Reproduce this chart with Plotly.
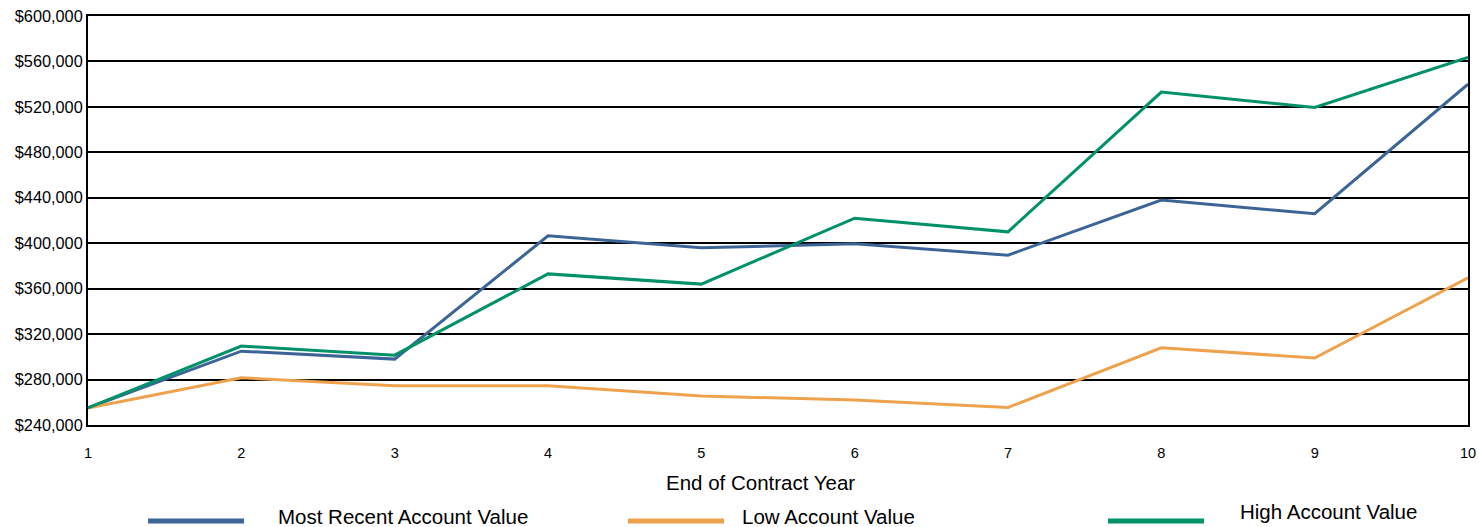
import plotly.graph_objects as go

years = [1, 2, 3, 4, 5, 6, 7, 8, 9, 10]
most_recent = [255000, 305000, 298000, 406500, 396000, 399500, 389500, 438000, 426000, 540000]
low_value = [255000, 281500, 274500, 274500, 265500, 262000, 255500, 308000, 299000, 369500]
high_value = [255000, 309500, 301500, 373000, 364000, 422000, 410000, 533000, 519500, 563500]

series_names = ["Most Recent Account Value", "Low Account Value", "High Account Value"]
series_values = [most_recent, low_value, high_value]
colors = ["#3C6496", "#EFA24E", "#00916B"]

y_ticks = list(range(240000, 600001, 40000))
y_tick_text = ["${:,}".format(v) for v in y_ticks]

W, H = 1479, 527
L, R, T, B = 88, 11, 16, 102
PW, PH = W - L - R, H - T - B


def px_x(px):
    return (px - L) / PW


def px_y(py):
    return (H - B - py) / PH


FONT = "Liberation Sans, Arial, sans-serif"

fig = go.Figure()
for name, vals, col in zip(series_names, series_values, colors):
    fig.add_trace(go.Scatter(x=years, y=vals, mode="lines", name=name,
                             line=dict(color=col, width=3), showlegend=False))

fig.update_layout(
    width=W, height=H,
    margin=dict(l=L, r=R, t=T, b=B, autoexpand=False),
    paper_bgcolor="white", plot_bgcolor="white",
    font=dict(family=FONT, color="black"),
)
fig.update_xaxes(range=[1, 10], tickvals=years, ticktext=[str(y) for y in years],
                 showgrid=False, zeroline=False, showline=True, mirror=True,
                 linecolor="black", linewidth=2, ticks="", ticklabelstandoff=14,
                 automargin=False,
                 tickfont=dict(size=14.5, family=FONT, color="black"))
fig.update_yaxes(range=[240000, 600000], tickvals=y_ticks, ticktext=y_tick_text,
                 showgrid=True, gridcolor="black", gridwidth=2, zeroline=False,
                 showline=True, mirror=True, linecolor="black", linewidth=2,
                 ticks="", ticklabelstandoff=0, automargin=False,
                 tickfont=dict(size=16.3, family=FONT, color="black"))

annotations = [dict(text="End of Contract Year", x=px_x(760), y=px_y(482), xref="paper", yref="paper",
                    xanchor="center", yanchor="middle", showarrow=False,
                    font=dict(size=20.5, family=FONT, color="black"))]
shapes = []
legend_pos = [(148, 244, 276, 516), (628, 724, 740, 516), (1108, 1204, 1238, 511)]
for (x0, x1, tx, ty), name, col in zip(legend_pos, series_names, colors):
    shapes.append(dict(type="line", xref="paper", yref="paper", x0=px_x(x0), x1=px_x(x1),
                       y0=px_y(521), y1=px_y(521), line=dict(color=col, width=5)))
    annotations.append(dict(text=name, x=px_x(tx), y=px_y(ty), xref="paper", yref="paper",
                            xanchor="left", yanchor="middle", showarrow=False,
                            font=dict(size=20.5, family=FONT, color="black")))
fig.update_layout(annotations=annotations, shapes=shapes)

fig.write_html("out.html")
